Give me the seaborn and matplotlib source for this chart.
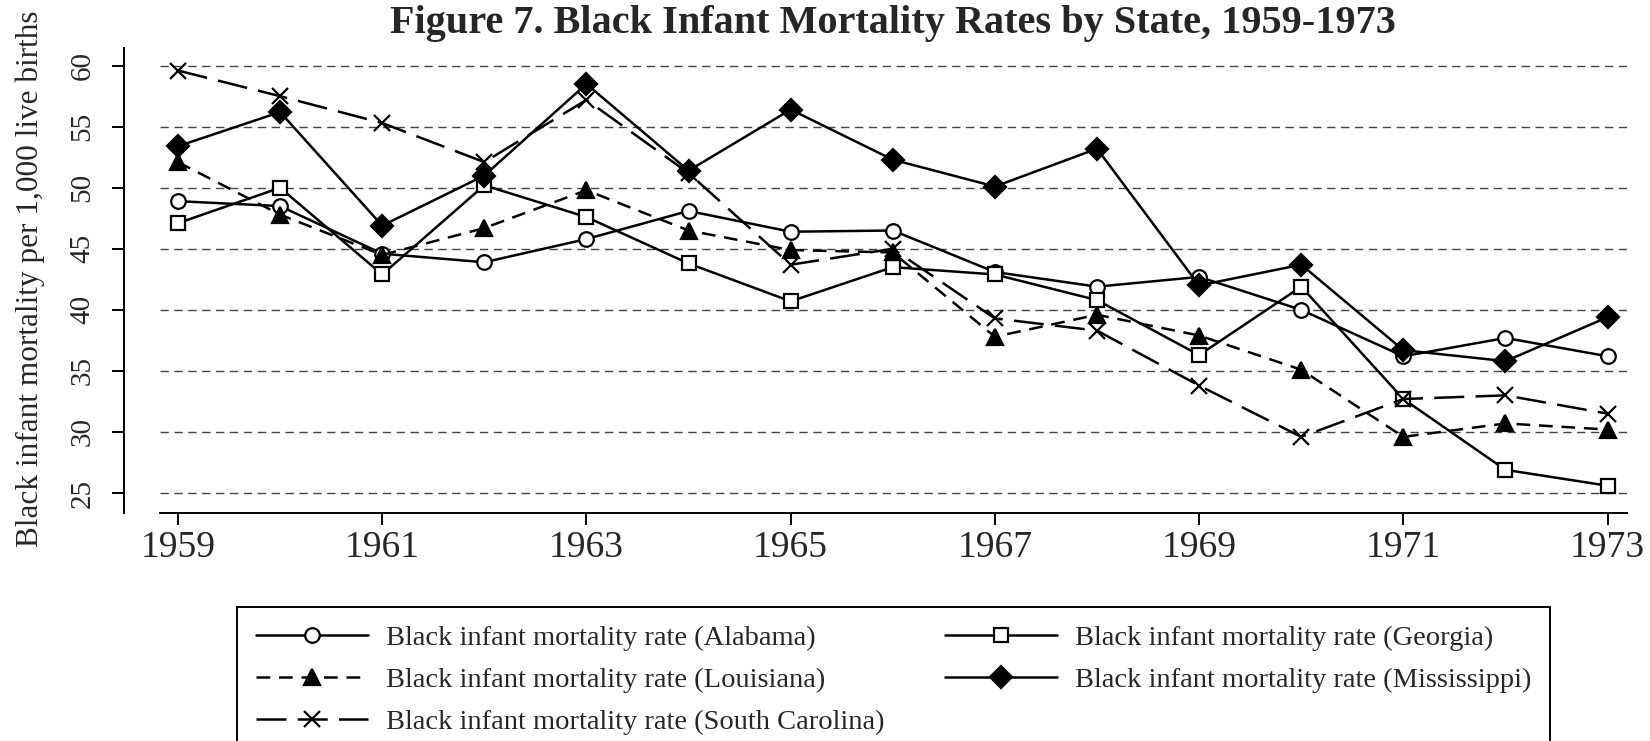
import numpy as np
import pandas as pd
import seaborn as sns
import matplotlib.pyplot as plt

years = list(range(1959, 1974))

alabama = [48.9, 48.5, 44.6, 43.9, 45.8, 48.1, 46.4, 46.5, 43.1, 41.9, 42.7, 40.0, 36.2, 37.7, 36.2]
georgia = [47.1, 50.0, 42.9, 50.2, 47.6, 43.8, 40.7, 43.5, 42.9, 40.8, 36.3, 41.9, 32.7, 26.9, 25.6]
louisiana = [52.1, 47.8, 44.5, 46.7, 49.8, 46.5, 44.9, 44.7, 37.8, 39.6, 37.9, 35.1, 29.6, 30.7, 30.2]
mississippi = [53.4, 56.2, 46.9, 51.0, 58.5, 51.4, 56.4, 52.3, 50.1, 53.2, 42.0, 43.7, 36.7, 35.8, 39.4]
south_carolina = [59.6, 57.5, 55.3, 52.1, 57.2, 51.2, 43.7, 45.0, 39.3, 38.3, 33.8, 29.6, 32.7, 33.0, 31.5]

states = ["Alabama", "Georgia", "Louisiana", "Mississippi", "South Carolina"]
values = [alabama, georgia, louisiana, mississippi, south_carolina]

df = pd.DataFrame({
    "year": years * len(states),
    "rate": np.concatenate(values),
    "state": np.repeat(states, len(years)),
})

styles = {
    "Alabama": dict(marker="o", markersize=10.5, markerfacecolor="white", linestyle="-"),
    "Georgia": dict(marker="s", markersize=10.5, markerfacecolor="white", linestyle="-"),
    "Louisiana": dict(marker="^", markersize=12, markerfacecolor="black", linestyle=(0, (5.5, 3.5))),
    "Mississippi": dict(marker="D", markersize=11.5, markerfacecolor="black", linestyle="-"),
    "South Carolina": dict(marker="x", markersize=11, markerfacecolor="black", linestyle=(0, (12, 4.5))),
}

sns.set_style("white")
plt.rcParams["font.family"] = ["Liberation Serif", "DejaVu Serif"]

fig = plt.figure(figsize=(16.5, 7.41), dpi=100)
ax = fig.add_axes([160 / 1650, 1 - 512.7 / 741, (1627 - 160) / 1650, 465 / 741])

handles = {}
for st in states:
    sub = df[df["state"] == st]
    sns.lineplot(data=sub, x="year", y="rate", ax=ax, color="black", linewidth=1.8,
                 markeredgecolor="black", markeredgewidth=1.6, label=st, **styles[st])
    handles[st] = ax.get_lines()[-1]

ax.set_xlim(1958.824, 1973.19)
ax.set_ylim(23.39, 61.47)
ax.set_xticks(range(1959, 1974, 2))
ax.set_yticks(range(25, 61, 5))
ax.yaxis.grid(True, linestyle=(0, (6, 4)), color="#444444", linewidth=1.0)
ax.xaxis.grid(False)
ax.set_axisbelow(True)

for s in ["top", "right"]:
    ax.spines[s].set_visible(False)
for s in ["left", "bottom"]:
    ax.spines[s].set_color("black")
    ax.spines[s].set_linewidth(1.4)
ax.spines["left"].set_position(("outward", 26))

ax.tick_params(axis="x", direction="out", length=8.5, width=1.4, color="black", labelsize=27, pad=4.5, bottom=True)
ax.tick_params(axis="y", direction="out", length=8.5, width=1.4, color="black", labelsize=21, pad=12, left=True)
for lab in ax.get_yticklabels():
    lab.set_rotation(90)
    lab.set_va("center")

ax.set_xlabel("")
ax.set_ylabel("")
fig.text(30 / 1650, 1 - 278.5 / 741, "Black infant mortality per 1,000 live births",
         rotation=90, ha="center", va="center", fontsize=22.5)
fig.text(893 / 1650, 1 - 23 / 741, "Figure 7. Black Infant Mortality Rates by State, 1959-1973",
         ha="center", va="center", fontsize=29, fontweight="bold")

# row-wise order in a two-column legend
order = ["Alabama", "Louisiana", "South Carolina", "Georgia", "Mississippi"]
leg = ax.legend([handles[s] for s in order],
                ["Black infant mortality rate (%s)" % s for s in order],
                ncol=2, loc="upper center", bbox_to_anchor=(0.5, -0.202), borderaxespad=0,
                fontsize=20.5, frameon=True, fancybox=False, framealpha=1,
                edgecolor="black", handlelength=3.93, handletextpad=0.63,
                columnspacing=2.14, labelspacing=0.56, borderpad=0.65)
leg.get_frame().set_linewidth(1.4)

fig.savefig("out.png", dpi=100)
